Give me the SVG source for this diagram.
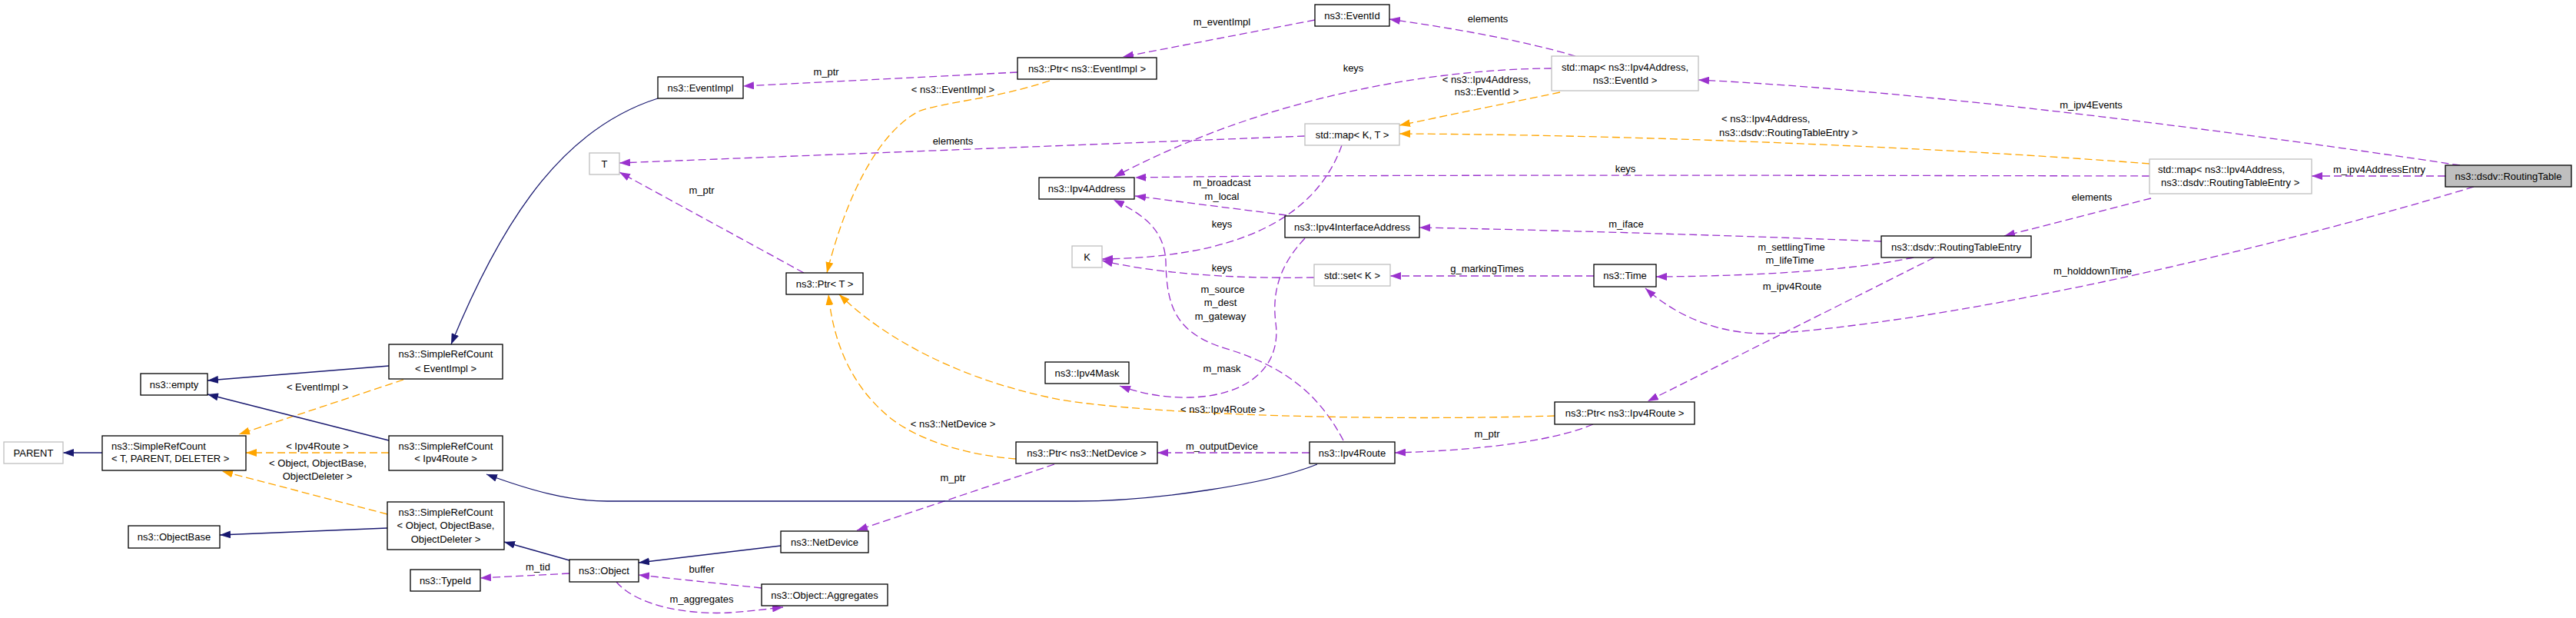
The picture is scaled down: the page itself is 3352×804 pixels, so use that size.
<svg xmlns="http://www.w3.org/2000/svg" width="3352" height="804" viewBox="0 0 3352 804">
<style>
text{font-family:"Liberation Sans",Arial,sans-serif;font-size:13px;fill:#000}
.m{text-anchor:middle}
.n rect{fill:#fff;stroke:#000;stroke-width:1.3}
.g rect{fill:#fff;stroke:#bfbfbf;stroke-width:1.3}
.u{fill:none;stroke:#9a32cd;stroke-width:1.3;stroke-dasharray:10,5;marker-end:url(#mu)}
.o{fill:none;stroke:#ffa500;stroke-width:1.3;stroke-dasharray:10,5;marker-end:url(#mo)}
.b{fill:none;stroke:#191970;stroke-width:1.3;marker-end:url(#mb)}
</style>
<defs>
<marker id="mu" viewBox="0 0 14 10" refX="14" refY="5" markerWidth="14" markerHeight="10" markerUnits="userSpaceOnUse" orient="auto"><path d="M0,0 L14,5 L0,10 z" fill="#9a32cd"/></marker>
<marker id="mo" viewBox="0 0 14 10" refX="14" refY="5" markerWidth="14" markerHeight="10" markerUnits="userSpaceOnUse" orient="auto"><path d="M0,0 L14,5 L0,10 z" fill="#ffa500"/></marker>
<marker id="mb" viewBox="0 0 14 10" refX="14" refY="5" markerWidth="14" markerHeight="10" markerUnits="userSpaceOnUse" orient="auto"><path d="M0,0 L14,5 L0,10 z" fill="#191970"/></marker>
</defs>
<rect width="3352" height="804" fill="#fff"/>
<g id="connectors">
<path class="u" d="M3201,215 C2900,170 2500,118 2210,104"/>
<text class="m" x="2721" y="141">m_ipv4Events</text>
<path class="u" d="M3182,229 L3008,229"/>
<text class="m" x="3096" y="224.5">m_ipv4AddressEntry</text>
<path class="u" d="M3219,243 C3000,310 2600,410 2320,433 C2240,440 2180,410 2141,375"/>
<text class="m" x="2723" y="356.5">m_holddownTime</text>
<path class="u" d="M2517,335 L2144,522"/>
<text class="m" x="2332" y="376.5">m_ipv4Route</text>
<path class="u" d="M2490,335 C2420,350 2300,359 2155,360"/>
<text class="m" x="2331" y="325.5">m_settlingTime</text>
<text class="m" x="2329" y="342.5">m_lifeTime</text>
<path class="u" d="M2448,314 C2300,308 2050,300 1847,296"/>
<text class="m" x="2116" y="295.5">m_iface</text>
<path class="u" d="M2799,258 L2608,307"/>
<text class="m" x="2722" y="260.5">elements</text>
<path class="u" d="M2797,229 C2300,228 1700,227 1477,231"/>
<text class="m" x="2115" y="223.5">keys</text>
<path class="o" d="M2797,213 C2500,190 2100,175 1821,174"/>
<text x="2240" y="158.5">&lt; ns3::Ipv4Address,</text>
<text x="2237" y="176.5">ns3::dsdv::RoutingTableEntry &gt;</text>
<path class="o" d="M2030,120 L1821,163"/>
<text class="m" x="1934.5" y="107.5">&lt; ns3::Ipv4Address,</text>
<text class="m" x="1934.5" y="123.5">ns3::EventId &gt;</text>
<path class="u" d="M2050,73 C1980,52 1880,35 1808,25"/>
<text class="m" x="1936" y="28.5">elements</text>
<path class="u" d="M2019,89 C1850,90 1640,130 1450,230"/>
<text class="m" x="1761" y="92.5">keys</text>
<path class="u" d="M1698,177 L806,212"/>
<text class="m" x="1240" y="187.5">elements</text>
<path class="u" d="M1746,189 C1710,290 1600,335 1434,337"/>
<text class="m" x="1590" y="295.5">keys</text>
<path class="u" d="M1710,361 C1600,363 1500,355 1434,339"/>
<text class="m" x="1590" y="352.5">keys</text>
<path class="u" d="M2074,359 L1809,359"/>
<text class="m" x="1935" y="353.5">g_markingTimes</text>
<path class="u" d="M1324,94 L967,112"/>
<text class="m" x="1075" y="97.5">m_ptr</text>
<path class="u" d="M1711,26 L1461,74"/>
<text class="m" x="1590" y="32.5">m_eventImpl</text>
<path class="u" d="M1046,355 L806,224"/>
<text class="m" x="913" y="251.5">m_ptr</text>
<path class="u" d="M1674,280 L1477,255"/>
<text class="m" x="1590" y="241.5">m_broadcast</text>
<text class="m" x="1590" y="259.5">m_local</text>
<path class="u" d="M1698,310 C1665,345 1655,380 1660,420 C1668,480 1620,515 1549,517 C1510,518 1480,510 1457,502"/>
<text class="m" x="1590" y="483.5">m_mask</text>
<path class="u" d="M1748,573 C1720,520 1680,480 1600,455 C1530,435 1518,400 1517,340 C1515,300 1490,280 1449,260"/>
<text class="m" x="1591" y="380.5">m_source</text>
<text class="m" x="1588" y="397.5">m_dest</text>
<text class="m" x="1588" y="415.5">m_gateway</text>
<path class="u" d="M1704,589 L1506,589"/>
<text class="m" x="1590" y="584.5">m_outputDevice</text>
<path class="u" d="M2073,552 C2030,570 1950,585 1815,589"/>
<text class="m" x="1935" y="568.5">m_ptr</text>
<path class="u" d="M1372,604 L1115,690"/>
<text class="m" x="1240" y="625.5">m_ptr</text>
<path class="u" d="M991,765 L831,748"/>
<text class="m" x="913" y="744.5">buffer</text>
<path class="u" d="M802,757 C830,790 900,800 950,797 C980,795 1000,792 1019,790"/>
<text class="m" x="913" y="783.5">m_aggregates</text>
<path class="u" d="M741,746 L625,752"/>
<text class="m" x="700" y="741.5">m_tid</text>
<path class="o" d="M1366,105 C1290,130 1230,132 1195,145 C1140,175 1100,260 1076,355"/>
<text class="m" x="1240" y="120.5">&lt; ns3::EventImpl &gt;</text>
<path class="o" d="M1322,597 C1260,592 1200,575 1160,545 C1110,505 1085,450 1078,383"/>
<text class="m" x="1240" y="555.5">&lt; ns3::NetDevice &gt;</text>
<path class="o" d="M2023,541 C1800,548 1500,540 1380,520 C1250,495 1150,440 1092,383"/>
<text class="m" x="1591" y="536.5">&lt; ns3::Ipv4Route &gt;</text>
<path class="o" d="M525,494 L311,565"/>
<text class="m" x="413" y="507.5">&lt; EventImpl &gt;</text>
<path class="o" d="M506,589 L320,589"/>
<text class="m" x="413" y="584.5">&lt; Ipv4Route &gt;</text>
<path class="o" d="M504,669 L289,613"/>
<text class="m" x="413.5" y="606.5">&lt; Object, ObjectBase,</text>
<text class="m" x="413" y="623.5">ObjectDeleter &gt;</text>
<path class="b" d="M133,589 L82,589"/>
<path class="b" d="M506,476 L270,495"/>
<path class="b" d="M506,573 L270,513"/>
<path class="b" d="M504,687 L286,696"/>
<path class="b" d="M856,128 C740,165 660,270 587,448"/>
<path class="b" d="M1714,604 C1650,630 1500,652 1400,652 L790,652 C740,652 690,638 633,617"/>
<path class="b" d="M741,729 L656,705"/>
<path class="b" d="M1016,710 L831,732"/>
</g>
<g id="RoutingTable" class="n"><rect x="3182" y="215" width="164" height="28" style="fill:#bfbfbf"/><text class="m" x="3264" y="233.5">ns3::dsdv::RoutingTable</text></g>
<g id="mapRoutingTableEntry" class="g"><rect x="2797" y="207" width="211" height="45"/><text x="2808" y="224.5">std::map&lt; ns3::Ipv4Address,</text><text x="2812" y="241.5">ns3::dsdv::RoutingTableEntry &gt;</text></g>
<g id="mapEventId" class="g"><rect x="2019" y="73" width="191" height="45"/><text class="m" x="2114.5" y="91.5">std::map&lt; ns3::Ipv4Address,</text><text class="m" x="2114.5" y="108.5">ns3::EventId &gt;</text></g>
<g id="EventId" class="n"><rect x="1711" y="6" width="97" height="28"/><text class="m" x="1759.5" y="24.5">ns3::EventId</text></g>
<g id="mapKT" class="g"><rect x="1698" y="161" width="123" height="28"/><text class="m" x="1759.5" y="179.5">std::map&lt; K, T &gt;</text></g>
<g id="Ipv4InterfaceAddress" class="n"><rect x="1672" y="281" width="175" height="28"/><text class="m" x="1759.5" y="299.5">ns3::Ipv4InterfaceAddress</text></g>
<g id="setK" class="g"><rect x="1710" y="344" width="99" height="28"/><text class="m" x="1759.5" y="362.5">std::set&lt; K &gt;</text></g>
<g id="Time" class="n"><rect x="2074" y="344" width="81" height="29"/><text class="m" x="2114.5" y="363">ns3::Time</text></g>
<g id="RoutingTableEntry" class="n"><rect x="2448" y="307" width="195" height="28"/><text class="m" x="2545.5" y="325.5">ns3::dsdv::RoutingTableEntry</text></g>
<g id="PtrEventImpl" class="n"><rect x="1324" y="75" width="181" height="28"/><text class="m" x="1414.5" y="93.5">ns3::Ptr&lt; ns3::EventImpl &gt;</text></g>
<g id="Ipv4Address" class="n"><rect x="1352" y="231" width="124" height="28"/><text class="m" x="1414" y="249.5">ns3::Ipv4Address</text></g>
<g id="K" class="g"><rect x="1395" y="320" width="39" height="28"/><text class="m" x="1414.5" y="338.5">K</text></g>
<g id="EventImpl" class="n"><rect x="856" y="100" width="111" height="28"/><text class="m" x="911.5" y="118.5">ns3::EventImpl</text></g>
<g id="T" class="g"><rect x="767" y="199" width="39" height="28"/><text class="m" x="786.5" y="217.5">T</text></g>
<g id="PtrT" class="n"><rect x="1023" y="355" width="100" height="28"/><text class="m" x="1073" y="373.5">ns3::Ptr&lt; T &gt;</text></g>
<g id="empty" class="n"><rect x="183" y="486" width="87" height="28"/><text class="m" x="226.5" y="504.5">ns3::empty</text></g>
<g id="PARENT" class="g"><rect x="5" y="575" width="77" height="28"/><text class="m" x="43.5" y="593.5">PARENT</text></g>
<g id="SimpleRefCountTPD" class="n"><rect x="133" y="567" width="187" height="45"/><text x="145" y="584.5">ns3::SimpleRefCount</text><text x="145" y="601">&lt; T, PARENT, DELETER &gt;</text></g>
<g id="SimpleRefCountEventImpl" class="n"><rect x="506" y="448" width="148" height="45"/><text class="m" x="580" y="465">ns3::SimpleRefCount</text><text class="m" x="580" y="483.5">&lt; EventImpl &gt;</text></g>
<g id="SimpleRefCountIpv4Route" class="n"><rect x="506" y="567" width="148" height="45"/><text class="m" x="580" y="584.5">ns3::SimpleRefCount</text><text class="m" x="580" y="601">&lt; Ipv4Route &gt;</text></g>
<g id="SimpleRefCountObject" class="n"><rect x="504" y="653" width="152" height="62"/><text class="m" x="580" y="670.5">ns3::SimpleRefCount</text><text class="m" x="580" y="687.5">&lt; Object, ObjectBase,</text><text class="m" x="580" y="705.5">ObjectDeleter &gt;</text></g>
<g id="ObjectBase" class="n"><rect x="167" y="684" width="119" height="29"/><text class="m" x="226.5" y="703">ns3::ObjectBase</text></g>
<g id="TypeId" class="n"><rect x="534" y="741" width="91" height="28"/><text class="m" x="579.5" y="759.5">ns3::TypeId</text></g>
<g id="Object" class="n"><rect x="741" y="728" width="90" height="29"/><text class="m" x="786" y="747">ns3::Object</text></g>
<g id="Aggregates" class="n"><rect x="991" y="760" width="164" height="28"/><text class="m" x="1073" y="778.5">ns3::Object::Aggregates</text></g>
<g id="NetDevice" class="n"><rect x="1016" y="691" width="114" height="28"/><text class="m" x="1073" y="709.5">ns3::NetDevice</text></g>
<g id="Ipv4Mask" class="n"><rect x="1360" y="471" width="109" height="28"/><text class="m" x="1414.5" y="489.5">ns3::Ipv4Mask</text></g>
<g id="PtrNetDevice" class="n"><rect x="1322" y="575" width="184" height="28"/><text class="m" x="1414" y="593.5">ns3::Ptr&lt; ns3::NetDevice &gt;</text></g>
<g id="Ipv4Route" class="n"><rect x="1704" y="575" width="111" height="28"/><text class="m" x="1759.5" y="593.5">ns3::Ipv4Route</text></g>
<g id="PtrIpv4Route" class="n"><rect x="2023" y="523" width="182" height="29"/><text class="m" x="2114" y="542">ns3::Ptr&lt; ns3::Ipv4Route &gt;</text></g>
</svg>
